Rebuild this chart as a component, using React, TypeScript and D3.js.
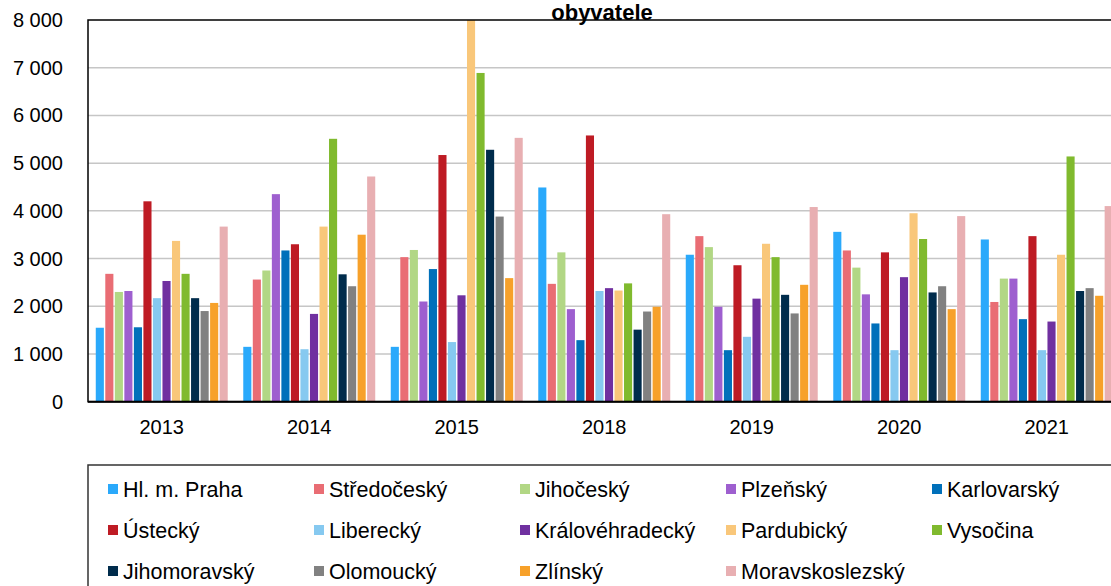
import React from "react";
import * as d3 from "d3";

// roky na ose x
const years = ["2013", "2014", "2015", "2018", "2019", "2020", "2021"];

// hodnoty po krajích
const praha = [1550, 1150, 1150, 4490, 3080, 3560, 3400];
const stredocesky = [2680, 2560, 3030, 2470, 3470, 3170, 2090];
const jihocesky = [2300, 2750, 3180, 3130, 3240, 2810, 2580];
const plzensky = [2320, 4350, 2100, 1940, 1990, 2250, 2580];
const karlovarsky = [1560, 3170, 2780, 1290, 1080, 1640, 1730];
const ustecky = [4200, 3300, 5170, 5580, 2860, 3130, 3470];
const liberecky = [2170, 1100, 1250, 2320, 1360, 1080, 1080];
const kralovehradecky = [2530, 1840, 2230, 2380, 2160, 2610, 1680];
const pardubicky = [3370, 3670, 8000, 2330, 3310, 3950, 3080];
const vysocina = [2680, 5510, 6890, 2480, 3030, 3410, 5140];
const jihomoravsky = [2170, 2670, 5280, 1510, 2240, 2290, 2320];
const olomoucky = [1900, 2420, 3880, 1890, 1850, 2420, 2380];
const zlinsky = [2070, 3500, 2590, 1990, 2450, 1940, 2220];
const moravskoslezsky = [3670, 4720, 5530, 3930, 4080, 3890, 4100];

const seriesNames = [
  "Hl. m. Praha", "Středočeský", "Jihočeský", "Plzeňský", "Karlovarský",
  "Ústecký", "Liberecký", "Královéhradecký", "Pardubický", "Vysočina",
  "Jihomoravský", "Olomoucký", "Zlínský", "Moravskoslezský",
];
const seriesValues = [
  praha, stredocesky, jihocesky, plzensky, karlovarsky, ustecky, liberecky,
  kralovehradecky, pardubicky, vysocina, jihomoravsky, olomoucky, zlinsky, moravskoslezsky,
];
const colors = [
  "#2AA9FB", "#E96D74", "#B2D785", "#9E5FCF", "#0070BA",
  "#BE1B24", "#86C9F0", "#7030A0", "#F9C77A", "#80BA2E",
  "#002C4C", "#818181", "#F7A12A", "#E8AFB2",
];
const yTicks = [0, 1000, 2000, 3000, 4000, 5000, 6000, 7000, 8000];

const W = 1111;
const H = 586;
const plot = { left: 88, top: 20, right: 1120.5, bottom: 401.7 };
const font = "'Liberation Sans', Arial, sans-serif";

const fmt = (v: number) => d3.format(",")(v).replace(/,/g, " ");

export default function App() {
  const x0 = d3.scaleBand().domain(years).range([plot.left, plot.right]);
  const x1 = d3
    .scaleBand()
    .domain(seriesNames)
    .range([0, x0.bandwidth()])
    .paddingInner(0.15)
    .paddingOuter(0.815);
  const y = d3.scaleLinear().domain([0, 8000]).range([plot.bottom, plot.top]);

  return (
    <div style={{ position: "absolute", left: 0, top: 0 }}>
      <svg width={W} height={H} style={{ display: "block", background: "#fff" }}>
        <defs>
          <clipPath id="plotClip">
            <rect x={plot.left} y={plot.top} width={plot.right - plot.left} height={plot.bottom - plot.top} />
          </clipPath>
        </defs>

        {/* mřížka */}
        {yTicks.slice(1, -1).map((t) => (
          <line key={t} x1={plot.left} x2={plot.right} y1={y(t)} y2={y(t)} stroke="#c6c6c6" strokeWidth={1.5} />
        ))}

        {/* sloupce */}
        <g clipPath="url(#plotClip)">
          {years.map((yr, i) =>
            seriesNames.map((s, j) => {
              const v = seriesValues[j][i];
              return (
                <rect
                  key={yr + s}
                  x={(x0(yr) as number) + (x1(s) as number)}
                  y={y(v)}
                  width={x1.bandwidth()}
                  height={plot.bottom - y(v)}
                  fill={colors[j]}
                />
              );
            })
          )}
        </g>

        {/* rámeček grafu */}
        <rect x={plot.left} y={plot.top} width={plot.right - plot.left} height={plot.bottom - plot.top}
          fill="none" stroke="#000" strokeWidth={1.5} />
        <line x1={plot.left} x2={plot.right} y1={plot.bottom} y2={plot.bottom} stroke="#000" strokeWidth={2} />

        {/* osa y */}
        {yTicks.map((t) => (
          <text key={t} x={63} y={y(t)} dy="0.35em" textAnchor="end" fontFamily={font} fontSize={20}>
            {fmt(t)}
          </text>
        ))}

        {/* osa x */}
        {years.map((yr) => (
          <text key={yr} x={(x0(yr) as number) + x0.bandwidth() / 2} y={434} textAnchor="middle" fontFamily={font} fontSize={20}>
            {yr}
          </text>
        ))}

        {/* titulek */}
        <text x={602} y={19.5} textAnchor="middle" fontFamily={font} fontSize={22} fontWeight="bold">
          obyvatele
        </text>

        {/* legenda */}
        <rect x={88} y={465} width={1100} height={140} fill="#fff" stroke="#333" strokeWidth={1.5} />
        {seriesNames.map((s, j) => {
          const col = j % 5;
          const row = Math.floor(j / 5);
          const lx = 108 + col * 206;
          const ly = 489 + row * 41;
          return (
            <g key={s}>
              <rect x={lx} y={ly - 5} width={10} height={10} fill={colors[j]} />
              <text x={lx + 15} y={ly} dy="0.35em" fontFamily={font} fontSize={21.5}>
                {s}
              </text>
            </g>
          );
        })}
      </svg>
    </div>
  );
}
